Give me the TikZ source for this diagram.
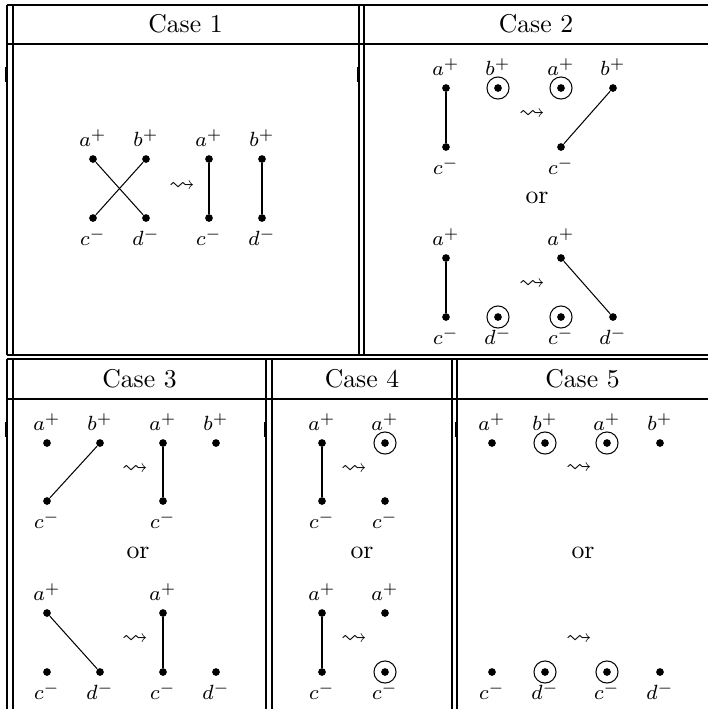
\documentclass[tikz,border=0pt]{standalone}
\usepackage{amssymb}

\tikzset{
	dot/.style={circle,fill,inner sep=0pt,minimum size=3pt},
	pdot/.style={dot,label={[lab,label distance=0.8pt]above:$#1^+$}},
	mdot/.style={dot,label={[lab]below:$#1^-$}},
	ring/.style={circle,draw,inner sep=0pt,minimum size=8.6pt},
	lab/.style={font=\footnotesize,inner sep=2.2pt},
	squig/.style={inner sep=0pt},
	rulemark/.style={line width=0.9pt}
}

\begin{document}
\begin{tikzpicture}[x=0.389pt,y=-0.389pt]

	\useasboundingbox (0,0) rectangle (708,709);

	% ---- table rules

	\draw (7,5) -- (708,5);
	\draw (7,44) -- (708,44);
	\draw (7,355) -- (708,355);
	\foreach \x in {7,13,359,364} { \draw (\x,5) -- (\x,355); }

	\draw (7,359) -- (708,359);
	\draw (7,399) -- (708,399);
	\foreach \x in {7,13,266,272,452,457} { \draw (\x,359) -- (\x,709); }

	\foreach \x/\y in {7/67,359/67,7/422,266/422,457/422} { \draw[rulemark] (\x-0.5,\y) -- ++(0,15); }

	% ---- headers

	\node (h1) at (185.5,24) {Case 1};
	\node (h2) at (536,24) {Case 2};
	\node (h3) at (139.5,379) {Case 3};
	\node (h4) at (362,379) {Case 4};
	\node (h5) at (582.5,379) {Case 5};

	\foreach \n/\x/\y in {o2/537/198, o3/138/553, o4/362/553, o5/583/553} { \node (\n) at (\x,\y) {or}; }

	% ---- vertices

	\foreach \n/\s/\l/\x/\y in {
		A1a/pdot/a/93/159, A1b/pdot/b/146/159, A1c/mdot/c/93/218, A1d/mdot/d/146/218,
		A2a/pdot/a/209/159, A2b/pdot/b/262/159, A2c/mdot/c/209/218, A2d/mdot/d/262/218,
		B1a/pdot/a/446/88, B1b/pdot/b/498/88, B1c/mdot/c/446/147,
		B2a/pdot/a/561/88, B2b/pdot/b/613/88, B2c/mdot/c/561/147,
		B3a/pdot/a/446/258, B3c/mdot/c/446/317, B3d/mdot/d/498/317,
		B4a/pdot/a/561/258, B4c/mdot/c/561/317, B4d/mdot/d/613/317,
		C1a/pdot/a/47/443, C1b/pdot/b/100/443, C1c/mdot/c/47/501,
		C2a/pdot/a/163/443, C2b/pdot/b/216/443, C2c/mdot/c/163/501,
		C3a/pdot/a/47/613, C3c/mdot/c/47/672, C3d/mdot/d/100/672,
		C4a/pdot/a/163/613, C4c/mdot/c/163/672, C4d/mdot/d/216/672,
		D1a/pdot/a/322/443, D1c/mdot/c/322/501,
		D2a/pdot/a/385/443, D2c/mdot/c/385/501,
		D3a/pdot/a/322/613, D3c/mdot/c/322/672,
		D4a/pdot/a/385/613, D4c/mdot/c/385/672,
		E1a/pdot/a/492/443, E1b/pdot/b/545/443, E2a/pdot/a/607/443, E2b/pdot/b/660/443,
		E3c/mdot/c/492/672, E3d/mdot/d/545/672, E4c/mdot/c/607/672, E4d/mdot/d/660/672}
		{ \node[\s=\l] (\n) at (\x,\y) {}; }

	% ---- circled vertices

	\foreach \n in {B1b,B2a,B3d,B4c,D2a,D4c,E1b,E2a,E3d,E4c} { \node[ring] (r\n) at (\n) {}; }

	% ---- edges

	\foreach \u/\v in {A1a/A1d, A1b/A1c, A2a/A2c, A2b/A2d,
		B1a/B1c, B2b/B2c, B3a/B3c, B4a/B4d,
		C1b/C1c, C2a/C2c, C3a/C3d, C4a/C4c,
		D1a/D1c, D3a/D3c} { \draw (\u) -- (\v); }

	% ---- moves

	\foreach \n/\x/\y in {m1/182/187, m2/532/115, m3/532/285, m4/135/470, m5/135/640,
		m6/354/470, m7/354/640, m8/579/469, m9/579/640} { \node[squig] (\n) at (\x,\y) {$\leadsto$}; }

\end{tikzpicture}
\end{document}
